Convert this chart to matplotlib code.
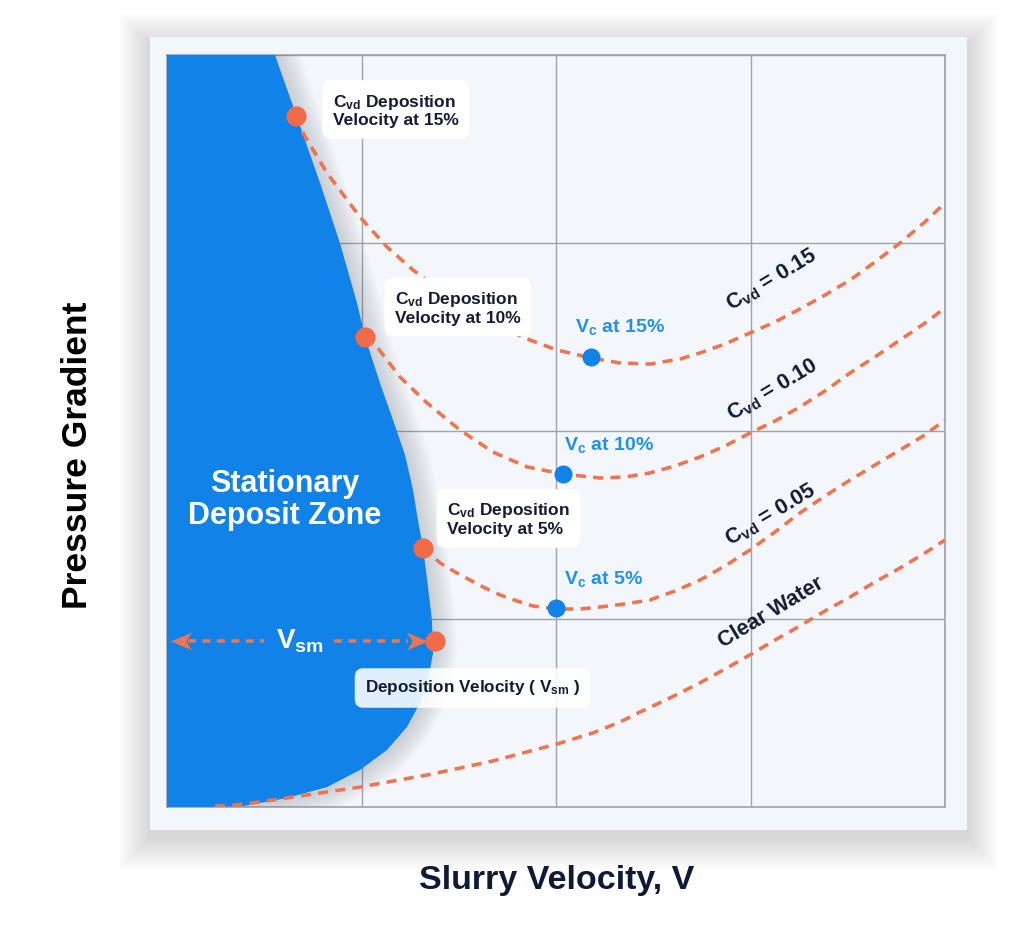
import numpy as np
import matplotlib.pyplot as plt
from matplotlib.patches import Rectangle

plt.rcParams['font.family'] = ['Liberation Sans', 'DejaVu Sans']
plt.rcParams['font.weight'] = 'bold'
plt.rcParams['mathtext.fontset'] = 'custom'
plt.rcParams['mathtext.rm'] = 'Liberation Sans:bold'
plt.rcParams['mathtext.it'] = 'Liberation Sans:bold'
plt.rcParams['mathtext.bf'] = 'Liberation Sans:bold'

# valores (unidades de la rejilla 4x4)
c15_x = [0.663, 0.699, 0.823, 0.992, 1.131, 1.265, 1.404, 1.558, 1.712, 1.866, 2.005, 2.180, 2.329,
         2.483, 2.638, 2.740, 2.869, 2.997, 3.126, 3.254, 3.383, 3.512, 3.640, 3.769, 3.897, 4.0]
c15_y = [3.676, 3.585, 3.372, 3.138, 2.979, 2.856, 2.750, 2.644, 2.553, 2.484, 2.431, 2.388, 2.362,
         2.356, 2.383, 2.415, 2.463, 2.521, 2.580, 2.649, 2.723, 2.803, 2.899, 3.000, 3.112, 3.213]

c10_x = [1.018, 1.080, 1.198, 1.337, 1.506, 1.676, 1.851, 2.036, 2.226, 2.355, 2.483, 2.612,
         2.740, 2.869, 2.997, 3.126, 3.254, 3.383, 3.512, 3.640, 3.769, 3.897, 4.0]
c10_y = [2.500, 2.447, 2.287, 2.149, 2.005, 1.888, 1.809, 1.771, 1.750, 1.755, 1.777, 1.814,
         1.862, 1.920, 1.989, 2.053, 2.128, 2.213, 2.309, 2.394, 2.484, 2.574, 2.654]

c05_x = [1.316, 1.404, 1.481, 1.558, 1.635, 1.712, 1.799, 1.882, 2.005, 2.123, 2.226, 2.355, 2.483,
         2.612, 2.740, 2.869, 2.997, 3.126, 3.254, 3.383, 3.512, 3.640, 3.769, 3.897, 4.0]
c05_y = [1.378, 1.298, 1.250, 1.207, 1.165, 1.128, 1.096, 1.069, 1.053, 1.053, 1.064, 1.080, 1.101,
         1.149, 1.207, 1.282, 1.367, 1.463, 1.564, 1.654, 1.739, 1.819, 1.899, 1.979, 2.059]

water_x = [0.247, 0.308, 0.478, 0.648, 0.823, 0.992, 1.162, 1.337, 1.506, 1.676, 1.851, 2.005, 2.190,
           2.329, 2.432, 2.586, 2.740, 2.869, 2.997, 3.126, 3.254, 3.383, 3.512, 3.640, 3.769, 3.897, 4.0]
water_y = [0.005, 0.005, 0.027, 0.053, 0.080, 0.106, 0.138, 0.170, 0.207, 0.245, 0.293, 0.335, 0.394,
           0.452, 0.505, 0.580, 0.660, 0.734, 0.809, 0.888, 0.963, 1.043, 1.117, 1.197, 1.271, 1.351, 1.420]

# borde de la zona de deposito estacionario
zone_x = [0.0, 0.555, 0.668, 0.787, 0.889, 0.977, 1.018, 1.095, 1.162, 1.224, 1.265, 1.290, 1.316,
          1.342, 1.362, 1.368, 1.342, 1.301, 1.234, 1.131, 0.992, 0.823, 0.617, 0.391, 0.221, 0.0]
zone_y = [4.0, 4.0, 3.670, 3.319, 3.0, 2.681, 2.500, 2.255, 2.059, 1.872, 1.686, 1.527, 1.383,
          1.170, 0.995, 0.819, 0.676, 0.553, 0.426, 0.303, 0.197, 0.106, 0.048, 0.005, 0.0, 0.0]

# velocidades de deposicion (naranja) y velocidades criticas (azul)
dep_x = [0.663, 1.018, 1.316, 1.378]
dep_y = [3.676, 2.500, 1.378, 0.883]
vc_x = [2.18, 2.036, 2.0]
vc_y = [2.394, 1.771, 1.058]

dep_labels = ['C$_{\\mathrm{vd}}$ Deposition\nVelocity at 15%',
              'C$_{\\mathrm{vd}}$ Deposition\nVelocity at 10%',
              'C$_{\\mathrm{vd}}$ Deposition\nVelocity at 5%']
vc_labels = ['V$_{\\mathrm{c}}$ at 15%', 'V$_{\\mathrm{c}}$ at 10%', 'V$_{\\mathrm{c}}$ at 5%']
curve_labels = ['C$_{\\mathrm{vd}}$ = 0.15', 'C$_{\\mathrm{vd}}$ = 0.10',
                'C$_{\\mathrm{vd}}$ = 0.05', 'Clear Water']

ORANGE = '#EF7450'
DOT_ORANGE = '#F26B48'
BLUE = '#1183E8'
LABEL_BLUE = '#2290EA'
DARK = '#141C33'
PANEL = '#F3F7FB'

W, H = 1024, 951
fig = plt.figure(figsize=(W / 100, H / 100), dpi=100)
fig.patch.set_facecolor('white')

# panel con sombra suave
px0, py0, px1, py1 = 150, 37, 967, 830
for i in range(40, 0, -1):
    g = i * 0.8
    fig.patches.append(Rectangle(((px0 - g) / W, (H - py1 - g - 8) / H),
                                 (px1 - px0 + 2 * g) / W, (py1 - py0 + 2 * g) / H,
                                 transform=fig.transFigure, facecolor='#505866',
                                 edgecolor='none', alpha=0.0028, zorder=-3))
fig.patches.append(Rectangle((px0 / W, (H - py1) / H), (px1 - px0) / W, (py1 - py0) / H,
                             transform=fig.transFigure, facecolor=PANEL,
                             edgecolor='none', zorder=-2))

ax = fig.add_axes([167 / W, (H - 807) / H, (945 - 167) / W, (807 - 55) / H])
ax.set_facecolor('none')
ax.set_xlim(0, 4)
ax.set_ylim(0, 4)
ax.set_xticks([0, 1, 2, 3, 4])
ax.set_yticks([0, 1, 2, 3, 4])
ax.tick_params(length=0, labelbottom=False, labelleft=False)
ax.grid(True, color='#9ea4ac', lw=1.0)
ax.set_axisbelow(True)
for s in ax.spines.values():
    s.set_color('#9ea4ac')
    s.set_linewidth(1.2)
    s.set_zorder(0.5)

# sombra del borde de la zona azul
for lw in range(34, 2, -3):
    ax.plot(zone_x[1:-1], zone_y[1:-1], color='#55606e', lw=lw, alpha=0.022,
            solid_capstyle='round', solid_joinstyle='round', zorder=0.8)
ax.fill(zone_x, zone_y, color=BLUE, zorder=1, lw=0)

# curvas
for cx, cy in [(c15_x, c15_y), (c10_x, c10_y), (c05_x, c05_y), (water_x, water_y)]:
    ax.plot(cx, cy, color=ORANGE, lw=2.6, dashes=(2.8, 2.0), zorder=3)

ax.plot(dep_x, dep_y, 'o', color=DOT_ORANGE, ms=14.5, mec='none', zorder=5)
ax.plot(vc_x, vc_y, 'o', color=BLUE, ms=13, mec='none', zorder=5)

# cajas de texto
box = dict(boxstyle='round,pad=0.6,rounding_size=0.5', fc='white', ec='none')
dep_text_pos = [(0.853, 3.705), (1.172, 2.655), (1.44, 1.53)]
for (tx, ty), lab in zip(dep_text_pos, dep_labels):
    ax.text(tx, ty, lab, fontsize=12.5, color=DARK, ha='left', va='center',
            linespacing=1.15, bbox=box, zorder=4)
ax.text(1.018, 0.633, 'Deposition Velocity ( V$_{\\mathrm{sm}}$ )', fontsize=12.3, color=DARK,
        ha='left', va='center', zorder=4,
        bbox=dict(boxstyle='round,pad=0.6,rounding_size=0.5', fc='white', ec='none', alpha=0.88))

vc_text_pos = [(2.098, 2.555), (2.041, 1.925), (2.041, 1.213)]
for (tx, ty), lab in zip(vc_text_pos, vc_labels):
    ax.text(tx, ty, lab, fontsize=14, color=LABEL_BLUE, ha='left', va='center', zorder=4)

curve_text_pos = [(3.11, 2.80), (3.116, 2.218), (3.105, 1.553), (3.105, 1.032)]
for (tx, ty), lab in zip(curve_text_pos, curve_labels):
    ax.text(tx, ty, lab, fontsize=15.5, color=DARK, ha='center', va='center',
            rotation=31, rotation_mode='anchor', zorder=4)

ax.text(0.607, 1.633, 'Stationary\nDeposit Zone', fontsize=22, color='white',
        ha='center', va='center', linespacing=1.05, zorder=4)

# flecha de V_sm
vsm_y = dep_y[3]
head_r = [(-1, -0.85), (1, 0), (-1, 0.85), (-0.45, 0)]
head_l = [(-x, y) for x, y in head_r]
ax.plot([0.11, 0.50], [vsm_y, vsm_y], color=ORANGE, lw=2.6, dashes=(2.2, 1.8), zorder=3)
ax.plot([0.86, 1.24], [vsm_y, vsm_y], color=ORANGE, lw=2.6, dashes=(2.2, 1.8), zorder=3)
ax.plot([0.07], [vsm_y], marker=head_l, color=ORANGE, ms=15, mec='none', zorder=4)
ax.plot([1.285], [vsm_y], marker=head_r, color=ORANGE, ms=15, mec='none', zorder=4)
ax.text(0.684, vsm_y, 'V$_{\\mathrm{sm}}$', fontsize=20, color='white',
        ha='center', va='center', zorder=4)

fig.text(78 / W, 1 - 455 / H, 'Pressure Gradient', rotation=90, fontsize=25.5,
         color='black', ha='center', va='center')
fig.text(557 / W, 1 - 880 / H, 'Slurry Velocity, V', fontsize=24.5,
         color='#0F1A36', ha='center', va='center')

fig.savefig('out.png', dpi=100)
